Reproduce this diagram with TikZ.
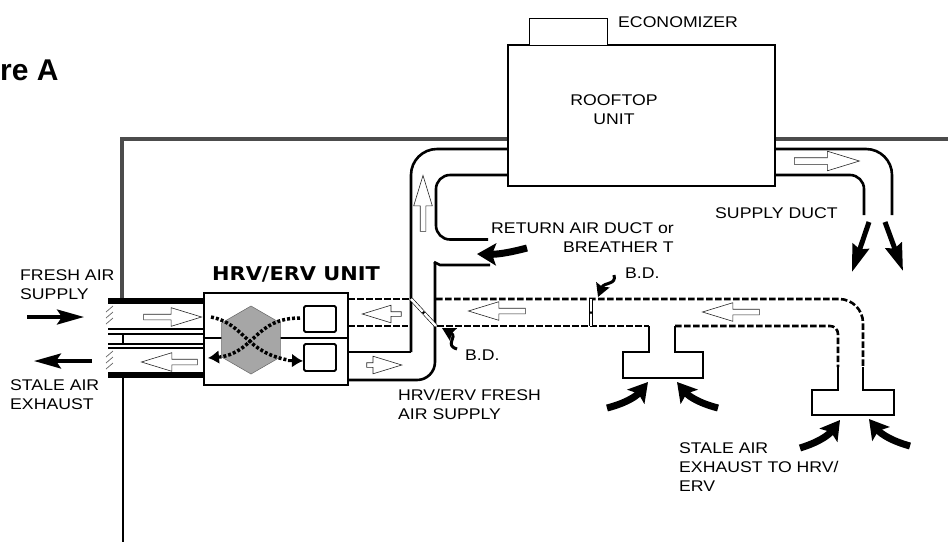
\documentclass[tikz,border=0pt]{standalone}
\usepackage{fontspec}
\setmainfont[FakeStretch=1.14]{Liberation Sans}
\newfontfamily\titlefont[FakeStretch=1.1]{DejaVu Sans}
\newfontfamily\figfont{Liberation Sans}
\usetikzlibrary{arrows.meta,shapes.arrows,shapes.geometric}

\begin{document}
\begin{tikzpicture}[x=1pt,y=-1pt,
duct/.style={line width=2.6pt,rounded corners=#1},
duct/.default=0pt,
stale/.style={line width=2.6pt,dash pattern=on 6.5pt off 2.5pt,rounded corners=#1},
stale/.default=0pt,
wall/.style={line width=3.5pt,draw=black!70},
box/.style={rectangle,draw,line width=2.6pt,inner sep=0pt,fill=white},
coil/.style={rectangle,rounded corners=1.5pt,draw,line width=1.8pt,minimum width=32pt,minimum height=26pt,inner sep=0pt},
airflow/.style={single arrow,draw=black!85,line width=.6pt,fill=white,inner sep=#1,single arrow head extend=6.5pt,single arrow tip angle=34,minimum height=20pt},
airflow/.default=2.5pt,
flow/.style={-{Stealth[length=27pt,width=15pt,inset=5pt]},line width=3.5pt},
blow/.style={-{Stealth[length=19pt,width=22pt,inset=4pt]},line width=#1},
blow/.default=7pt,
spout/.style={-{Stealth[length=27pt,width=17pt,inset=3pt]},line width=5pt},
pointer/.style={-{Stealth[length=13pt,width=14pt,inset=2pt]},line width=3pt},
swap/.style={line width=3.5pt,dash pattern=on 3pt off 2pt},
damper/.style={draw,line width=.6pt,double distance=2.5pt},
txt/.style={inner sep=0pt,align=left,font=\fontsize{15.5}{19}\selectfont},
head/.style={inner sep=0pt,font=\titlefont\bfseries\fontsize{19}{19}\selectfont}]

\useasboundingbox (0,0) rectangle (948,542);

%% building outline
\draw[wall] (122,300) -- (122,139) -- (508,139);
\draw[wall] (775,139) -- (948,139);
\draw[line width=2.5pt] (123,375) -- (123,542);

%% supply duct
\draw[duct=26pt] (775,149) -- (892,149) -- (892,215);
\draw[duct=14pt] (775,175) -- (864,175) -- (864,215);

%% return duct and fresh air supply
\draw[duct=26pt] (508,149) -- (411,149) -- (411,352);
\draw[duct] (411,352) -- (348,352);
\draw[duct=14pt] (508,175) -- (436,175) -- (436,239.5) -- (488,239.5);
\draw[duct] (434,262) -- (440,265) -- (490,265);
\draw[duct=18pt] (435,262) -- (435,380) -- (348,380);

%% stale air ducts
\draw[stale] (348,299) -- (411,299);
\draw[stale] (348,326) -- (408,326);
\draw[stale=24pt] (436,299) -- (863,299) -- (863,367);
\draw[stale] (437,326) -- (649,326);
\draw[stale=8pt] (675,326) -- (838,326) -- (838,367);

%% exhaust grilles
\draw[duct] (649,326) -- (649,352) -- (623,352) -- (623,378) -- (703,378) -- (703,352) -- (675,352) -- (675,326);
\draw[duct] (838,367) -- (838,390) -- (812,390) -- (812,415) -- (894,415) -- (894,390) -- (863,390) -- (863,367);

%% outside air hood
\draw[line width=6pt] (108,301) -- (204,301);
\draw[line width=6pt] (108,375) -- (204,375);
\foreach \y in {329,334,344,348}
      \draw[line width=1.8pt] (108,\y) -- (204,\y);
\draw[line width=2.5pt] (123,334) -- (123,344);
\foreach \y in {312,318,324,357,363,369}
      \draw[line width=.7pt,black!60] (106,\y) -- (113,{\y-6});

%% balancing dampers
\draw[damper] (411,299) -- (436,326);
\draw[damper] (591,299) -- (591,326);
\fill (423.5,312.5) circle (1.5pt);
\fill (591,312.5) circle (1.5pt);

%% boxes
\node[box,minimum width=267pt,minimum height=141pt] (rooftop) at (641.5,115.5) {};
\node[box,line width=1pt,minimum width=78pt,minimum height=27pt] (economizer) at (568,31.5) {};
\node[box,minimum width=144pt,minimum height=92pt] (unit) at (276,339) {};
\draw[duct] (unit.west |- 0,338) -- (unit.east |- 0,338);
\node[regular polygon,regular polygon sides=6,draw=black!60,line width=.5pt,fill=black!35,minimum size=68pt,inner sep=0pt,rotate=30] (core) at (251,340) {};
\node[coil] (coil-1) at (320,319) {};
\node[coil,minimum height=27pt] (coil-2) at (320,357.5) {};

%% airstreams through the core
\coordinate (a-in) at (211,317);
\coordinate (a-out) at (303,361);
\coordinate (b-in) at (300,318);
\coordinate (b-out) at (208,358);
\draw[swap] (a-in) .. controls (245,324) and (245,352) .. (288,360);
\draw[swap] (b-in) .. controls (255,318) and (255,352) .. (220,357);
\draw[-{Latex[length=11pt,width=14pt]},line width=3pt] (288,360.5) -- (a-out);
\draw[-{Latex[length=11pt,width=14pt]},line width=3pt] (220,357) -- (b-out);

%% hollow arrows in the ducts
\foreach \name/\x/\y/\len/\ang/\sz in {in/168/317/58/0/2.5pt, out/174/362/56/180/2.5pt, up/423/208/56/90/2.5pt, fresh/380.5/365/35/0/2pt, hrv/385.5/314/39/180/2pt, stale-a/501.5/311/57/180/2.5pt, stale-b/735.5/312/57/180/2.5pt, supply/821.5/161/65/0/3pt}
      \node[airflow=\sz,minimum height=\len pt,rotate=\ang] (arrow-\name) at (\x,\y) {};

%% outside air arrows
\coordinate (fresh-a) at (27,317);
\coordinate (fresh-b) at (84,317);
\coordinate (exh-a) at (92,361);
\coordinate (exh-b) at (34,361);
\draw[flow] (fresh-a) -- (fresh-b);
\draw[flow] (exh-a) -- (exh-b);

%% supply arrows
\coordinate (sup-a) at (869,222);
\coordinate (sup-b) at (852,272);
\coordinate (sup-c) at (885,222);
\coordinate (sup-d) at (903,271);
\draw[spout] (sup-a) -- (sup-b);
\draw[spout] (sup-c) -- (sup-d);

%% return and grille arrows
\coordinate (ret-a) at (527,248);
\coordinate (ret-b) at (477,254);
\coordinate (gr-1) at (607,408);
\coordinate (gr-2) at (648,382);
\coordinate (gr-3) at (718,408);
\coordinate (gr-4) at (677,382);
\coordinate (gr-5) at (800,448);
\coordinate (gr-6) at (840,420);
\coordinate (gr-7) at (910,446);
\coordinate (gr-8) at (869,419);
\draw[blow] (ret-a) to[bend left=8] (ret-b);
\foreach \a/\b in {1/2, 5/6}
      \draw[blow] (gr-\a) to[bend right=18] (gr-\b);
\foreach \a/\b in {3/4, 7/8}
      \draw[blow] (gr-\a) to[bend left=18] (gr-\b);

%% damper pointers
\coordinate (bd-a) at (614,275);
\coordinate (bd-b) at (598,297);
\coordinate (bd-c) at (457,349);
\coordinate (bd-d) at (442,328);
\draw[pointer] (bd-a) .. controls (617,285) and (604,282) .. (bd-b);
\draw[pointer] (bd-c) .. controls (444,345) and (458,337) .. (bd-d);

%% labels
\node[inner sep=0pt,anchor=base west,font=\figfont\bfseries\fontsize{30}{30}\selectfont] (title) at (0,80) {re A};
\node[head,anchor=west] (unit-title) at (212,274) {HRV/ERV UNIT};
\node[txt,anchor=west] (eco-label) at (618,22) {ECONOMIZER};
\node[txt,align=center] (roof-label) at (614,109.5) {ROOFTOP\\UNIT};
\node[txt,align=right,anchor=east] (ret-label) at (674,237.5) {RETURN AIR DUCT or\\BREATHER T};
\node[txt,anchor=west] (sup-label) at (715,213) {SUPPLY DUCT};
\node[txt,anchor=west] (bd-1) at (625,273) {B.D.};
\node[txt,anchor=west] (bd-2) at (465,355) {B.D.};
\node[txt,anchor=west] (in-label) at (20,284.5) {FRESH AIR\\SUPPLY};
\node[txt,anchor=west] (out-label) at (10,395) {STALE AIR\\EXHAUST};
\node[txt,anchor=west] (hrv-label) at (398,404) {HRV/ERV FRESH\\AIR SUPPLY};
\node[txt,anchor=west] (stale-label) at (679,467) {STALE AIR\\EXHAUST TO HRV/\\ERV};

\end{tikzpicture}
\end{document}
